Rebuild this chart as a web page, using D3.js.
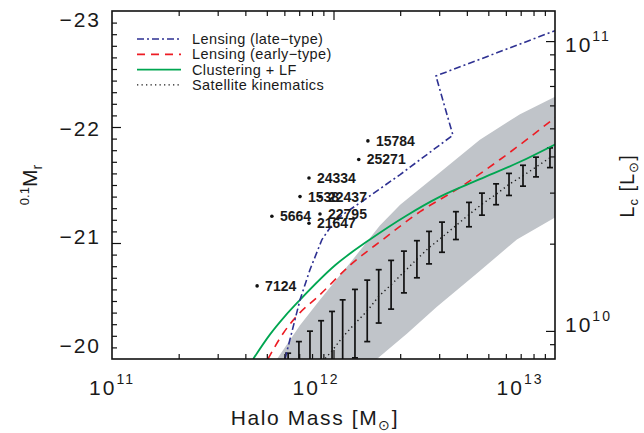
<!DOCTYPE html>
<html>
<head>
<meta charset="utf-8">
<script src="https://cdn.jsdelivr.net/npm/d3@7"></script>
<style>
  body { margin: 0; background: #fff; }
  text { font-family: "Liberation Sans", Arial, Helvetica, sans-serif; fill: #1a1a1a; }
</style>
</head>
<body>
<svg id="chart" width="644" height="433"></svg>
<script>
// halo mass [Msun] vs 0.1Mr for each constraint
const lateMass = [6.04e11, 7.06e11, 7.83e11, 8.87e11, 1.02e12, 1.42e12, 2.0e12, 3.46e12, 2.90e12, 1.0e13];
const lateMr   = [-20.0, -20.51, -20.77, -21.03, -21.20, -21.39, -21.59, -21.93, -22.44, -22.83];

const earlyMass = [5.06e11, 5.92e11, 7.06e11, 8.42e11, 1.19e12, 1.67e12, 2.46e12, 3.73e12, 5.65e12, 1.0e13];
const earlyMr   = [-20.0, -20.22, -20.40, -20.53, -20.81, -21.03, -21.27, -21.48, -21.72, -22.08];

const clusMass = [4.34e11, 5.16e11, 6.04e11, 7.06e11, 1.02e12, 1.46e12, 2.15e12, 3.03e12, 4.58e12, 6.95e12, 1.0e13];
const clusMr   = [-20.0, -20.21, -20.37, -20.51, -20.81, -21.03, -21.24, -21.40, -21.55, -21.70, -21.85];

// satellite kinematics: bright / faint end of each error bar
const satMass = [6.24e11, 6.98e11, 7.83e11, 8.79e11, 9.85e11, 1.10e12, 1.25e12, 1.42e12, 1.60e12, 1.82e12, 2.08e12,
                 2.38e12, 2.70e12, 3.09e12, 3.57e12, 4.09e12, 4.68e12, 5.42e12, 6.20e12, 7.17e12, 8.21e12, 9.49e12];
const satBright = [-20.05, -20.15, -20.24, -20.33, -20.41, -20.51, -20.60, -20.68, -20.77, -20.85, -20.93,
                   -21.02, -21.10, -21.18, -21.27, -21.35, -21.43, -21.51, -21.60, -21.67, -21.74, -21.82];
const satFaint  = [-19.18, -19.32, -19.46, -19.60, -19.73, -19.87, -20.01, -20.15, -20.31, -20.43, -20.57,
                   -20.70, -20.82, -20.92, -21.03, -21.14, -21.24, -21.33, -21.41, -21.49, -21.57, -21.65];

// grey band edges
const bandUpMass = [5.56e11, 7.06e11, 8.69e11, 1.19e12, 1.62e12, 2.0e12, 3.03e12, 4.58e12, 6.95e12, 1.0e13];
const bandUpMr   = [-20.0, -20.29, -20.51, -20.83, -21.15, -21.33, -21.61, -21.89, -22.11, -22.26];
const bandLoMass = [1.57e12, 2.15e12, 2.93e12, 4.45e12, 6.73e12, 1.0e13];
const bandLoMr   = [-20.0, -20.22, -20.45, -20.74, -21.03, -21.22];

// individual galaxies
const galId   = ["15784", "25271", "24334", "1538", "22437", "5664", "22795", "21647", "7124"];
const galMass = [1.43e12, 1.30e12, 7.75e11, 7.06e11, 8.69e11, 5.27e11, 8.69e11, 7.75e11, 4.52e11];
const galMr   = [-21.88, -21.72, -21.56, -21.40, -21.40, -21.23, -21.25, -21.17, -20.63];

const legendNames = ["Lensing (late\u2212type)", "Lensing (early\u2212type)", "Clustering + LF", "Satellite kinematics"];
const legendColors = ["#2e3192", "#ed1c24", "#00a651", "#1a1a1a"];
const legendDash = ["7,3,2,3", "8,6", null, "1.3,3.2"];

const xTicksMajor = [1e11, 1e12, 1e13];
const yTicksMajor = [-23, -22, -21, -20];
const lumTicksMajor = [1e10, 1e11];

const svg = d3.select("#chart");
const L = 112, R = 555, T = 11, B = 359;

const x = d3.scaleLog().domain([1e11, 1e13]).range([L, R]);
const y = d3.scaleLinear().domain([-23, -20]).range([T, B]);
const yLum = d3.scaleLog().domain([8.0e9, 1.27e11]).range([B, T]);

svg.append("clipPath").attr("id", "plot")
  .append("rect").attr("x", L).attr("y", T).attr("width", R - L).attr("height", B - T);
const plot = svg.append("g").attr("clip-path", "url(#plot)");

// band
const band = bandUpMass.map((m, i) => [x(m), y(bandUpMr[i])])
  .concat(bandLoMass.map((m, i) => [x(m), y(bandLoMr[i])]).reverse());
plot.append("path")
  .attr("d", d3.line()(band) + "Z")
  .attr("fill", "#c0c4c9");

// satellite error bars
const bars = plot.selectAll(".bar").data(satMass).enter().append("g").attr("class", "bar");
bars.append("line")
  .attr("x1", d => x(d)).attr("x2", d => x(d))
  .attr("y1", (d, i) => y(satBright[i])).attr("y2", (d, i) => y(satFaint[i]));
bars.append("line")
  .attr("x1", d => x(d) - 3).attr("x2", d => x(d) + 3)
  .attr("y1", (d, i) => y(satBright[i])).attr("y2", (d, i) => y(satBright[i]));
bars.append("line")
  .attr("x1", d => x(d) - 3).attr("x2", d => x(d) + 3)
  .attr("y1", (d, i) => y(satFaint[i])).attr("y2", (d, i) => y(satFaint[i]));
bars.selectAll("line").attr("stroke", "#111").attr("stroke-width", 1.7);

const curve = d3.line().x(d => x(d[0])).y(d => y(d[1]));
plot.append("path")
  .attr("d", curve(satMass.map((m, i) => [m, (satBright[i] + satFaint[i]) / 2])))
  .attr("fill", "none").attr("stroke", legendColors[3]).attr("stroke-width", 1.4)
  .attr("stroke-dasharray", legendDash[3]);

const smooth = d3.line().x(d => x(d[0])).y(d => y(d[1])).curve(d3.curveMonotoneX);
plot.append("path")
  .attr("d", smooth(earlyMass.map((m, i) => [m, earlyMr[i]])))
  .attr("fill", "none").attr("stroke", legendColors[1]).attr("stroke-width", 1.6)
  .attr("stroke-dasharray", legendDash[1]);
plot.append("path")
  .attr("d", smooth(clusMass.map((m, i) => [m, clusMr[i]])))
  .attr("fill", "none").attr("stroke", legendColors[2]).attr("stroke-width", 1.8);
plot.append("path")
  .attr("d", curve(lateMass.map((m, i) => [m, lateMr[i]])))
  .attr("fill", "none").attr("stroke", legendColors[0]).attr("stroke-width", 1.6)
  .attr("stroke-dasharray", legendDash[0]);

// galaxies
const gal = svg.selectAll(".gal").data(galId).enter().append("g").attr("class", "gal")
  .attr("transform", (d, i) => `translate(${x(galMass[i])},${y(galMr[i])})`);
gal.append("circle").attr("r", 1.8).attr("fill", "#111");
gal.append("text").attr("x", 8).attr("y", 5)
  .style("font-size", "14px").style("font-weight", "bold")
  .text(d => d);

// ticks
function ticks(axis, values, size, tr) {
  svg.append("g").attr("transform", tr)
    .call(axis.tickValues(values).tickSize(size).tickFormat(""))
    .call(g => g.select(".domain").remove())
    .call(g => g.selectAll("line").attr("stroke", "#111").attr("stroke-width", 1.2));
}
const xMinor = d3.range(2, 10).map(k => k * 1e11).concat(d3.range(2, 10).map(k => k * 1e12));
ticks(d3.axisBottom(x), xMinor, -5, `translate(0,${B})`);
ticks(d3.axisBottom(x), [1e12], -9, `translate(0,${B})`);
ticks(d3.axisTop(x), xMinor, -5, `translate(0,${T})`);
ticks(d3.axisTop(x), [1e12], -9, `translate(0,${T})`);
const yMinor = d3.range(-229, -200).map(v => v / 10).filter(v => Math.abs(v - Math.round(v)) > 0.01);
ticks(d3.axisLeft(y), yMinor, -5, `translate(${L},0)`);
ticks(d3.axisLeft(y), [-22, -21], -9, `translate(${L},0)`);
const lumMinor = [9e9].concat(d3.range(2, 10).map(k => k * 1e10));
ticks(d3.axisRight(yLum), lumMinor, -5, `translate(${R},0)`);
ticks(d3.axisRight(yLum), lumTicksMajor, -9, `translate(${R},0)`);

svg.append("rect").attr("x", L).attr("y", T).attr("width", R - L).attr("height", B - T)
  .attr("fill", "none").attr("stroke", "#111").attr("stroke-width", 1.6);

// tick labels
xTicksMajor.forEach(v => {
  const t = svg.append("text").attr("x", L + (x(v) - L) * 0.921).attr("y", 395)
    .attr("text-anchor", "middle").style("font-size", "21px").style("letter-spacing", "2px");
  t.append("tspan").text("10");
  t.append("tspan").attr("dy", -11).style("font-size", "14px").text(Math.round(Math.log10(v)));
});
yTicksMajor.forEach(v => {
  svg.append("text").attr("x", 101).attr("y", 128 + (y(v) - 127) * 0.937 + 7.5)
    .attr("text-anchor", "end").style("font-size", "21px").style("letter-spacing", "2px")
    .text("\u2212" + Math.abs(v));
});
lumTicksMajor.forEach(v => {
  const t = svg.append("text").attr("x", 565).attr("y", 44 + (yLum(v) - 41) * 0.966 + 7.5)
    .style("font-size", "21px").style("letter-spacing", "2px");
  t.append("tspan").text("10");
  t.append("tspan").attr("dy", -11).style("font-size", "14px").text(Math.round(Math.log10(v)));
});

// axis titles
const xt = svg.append("text").attr("x", 315).attr("y", 425).attr("text-anchor", "middle")
  .style("font-size", "21px").style("letter-spacing", "1.6px");
xt.append("tspan").text("Halo Mass [M");
xt.append("tspan").attr("dy", 5).style("font-size", "14px").text("\u2299");
xt.append("tspan").attr("dy", -5).text("]");

const yt = svg.append("text").attr("transform", "translate(37,185) rotate(-90)").attr("text-anchor", "middle")
  .style("font-size", "21px");
yt.append("tspan").attr("dy", -8).style("font-size", "13px").text("0.1");
yt.append("tspan").attr("dy", 8).text("M");
yt.append("tspan").attr("dy", 5).style("font-size", "14px").text("r");

const rt = svg.append("text").attr("transform", "translate(634,186) rotate(-90)").attr("text-anchor", "middle")
  .style("font-size", "20px").style("letter-spacing", "1px");
rt.append("tspan").text("L");
rt.append("tspan").attr("dy", 4).style("font-size", "13px").text("c");
rt.append("tspan").attr("dy", -4).text(" [L");
rt.append("tspan").attr("dy", 4).style("font-size", "13px").text("\u2299");
rt.append("tspan").attr("dy", -4).text("]");

// legend
const leg = svg.selectAll(".leg").data(legendNames).enter().append("g").attr("class", "leg")
  .attr("transform", (d, i) => `translate(137,${39 + i * 15.3})`);
leg.append("line").attr("x1", 0).attr("x2", 44)
  .attr("stroke", (d, i) => legendColors[i])
  .attr("stroke-width", (d, i) => i === 3 ? 1.4 : 1.7)
  .attr("stroke-dasharray", (d, i) => legendDash[i]);
leg.append("text").attr("x", 55).attr("y", 5)
  .style("font-size", "14.5px").style("letter-spacing", "0.4px").text(d => d);
</script>
</body>
</html>
